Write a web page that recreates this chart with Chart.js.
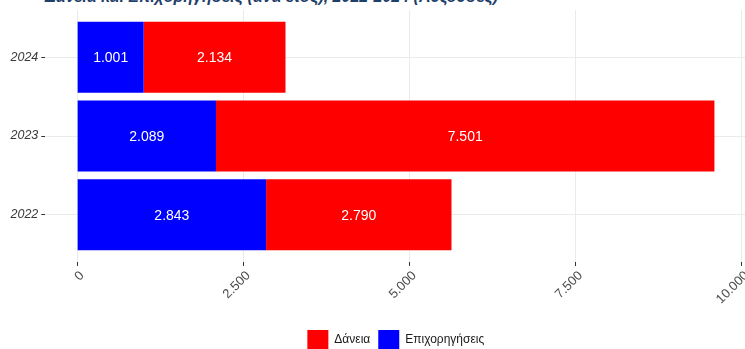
<!DOCTYPE html>
<html>
<head>
<meta charset="utf-8">
<script src="https://cdn.jsdelivr.net/npm/chart.js@4.4.1/dist/chart.umd.min.js"></script>
<style>
  html, body { margin: 0; padding: 0; width: 745px; height: 349px; overflow: hidden; background: #fff; position: relative; }
  #title { position: absolute; left: 45px; top: -11px; font: italic bold 16px 'Liberation Sans', Arial, sans-serif; line-height: 16px; color: #1f3f6b; white-space: nowrap; }
  #wrap { position: absolute; left: 0; top: 0; }
</style>
</head>
<body>
<div id="title">Δάνεια και Επιχορηγήσεις (ανά έτος), 2022-2024 (Αυξούσες)</div>
<div id="wrap"><canvas id="chart" width="760" height="360"></canvas></div>
<script>
// data
var years = ['2022', '2023', '2024'];
var epixorigiseis = [2843, 2089, 1001];
var daneia = [2790, 7501, 2134];
var xTicks = [0, 2500, 5000, 7500, 10000];

function fmt(v) {
  return String(v).replace(/\B(?=(\d{3})+(?!\d))/g, '.');
}

// years sit at 1, 2, 3 on a linear axis so the ggplot-style padding can be kept
var yearPos = years.map(function(y, i) { return i + 1; });
var totals = years.map(function(y, i) { return epixorigiseis[i] + daneia[i]; });
var maxTotal = Math.max.apply(null, totals);

var barLabels = {
  id: 'barLabels',
  afterDatasetsDraw: function(chart) {
    var ctx = chart.ctx;
    ctx.save();
    ctx.font = '14px "Liberation Sans", Arial, sans-serif';
    ctx.fillStyle = '#ffffff';
    ctx.textAlign = 'center';
    ctx.textBaseline = 'middle';
    chart.data.datasets.forEach(function(ds, i) {
      chart.getDatasetMeta(i).data.forEach(function(bar, j) {
        var p = bar.getProps(['x', 'y', 'base'], true);
        ctx.fillText(fmt(ds.data[j].x), (p.x + p.base) / 2, p.y + 1);
      });
    });
    ctx.restore();
  }
};

// centre the legend under the plot panel, like ggplot does
var legendUnderPanel = {
  id: 'legendUnderPanel',
  afterLayout: function(chart) {
    chart.legend.left = chart.chartArea.left;
    chart.legend.right = chart.chartArea.right;
  }
};

var config = {
  type: 'bar',
  data: {
    datasets: [
      {
        label: 'Επιχορηγήσεις',
        data: yearPos.map(function(p, i) { return { x: epixorigiseis[i], y: p }; }),
        backgroundColor: '#0000ff',
        borderWidth: 0
      },
      {
        label: 'Δάνεια',
        data: yearPos.map(function(p, i) { return { x: daneia[i], y: p }; }),
        backgroundColor: '#ff0000',
        borderWidth: 0
      }
    ]
  },
  options: {
    indexAxis: 'y',
    responsive: false,
    animation: false,
    barPercentage: 0.9,
    categoryPercentage: 1,
    layout: { padding: { left: 0, right: 13.7, top: 10, bottom: 0 } },
    scales: {
      x: {
        type: 'linear',
        stacked: true,
        min: -0.05 * maxTotal,
        max: 1.05 * maxTotal,
        afterBuildTicks: function(scale) {
          scale.ticks = xTicks.map(function(v) { return { value: v }; });
        },
        afterFit: function(scale) {
          scale.height = 60;
          scale.paddingLeft = 0;
          scale.paddingRight = 0;
        },
        grid: { color: '#ebebeb', lineWidth: 1, tickColor: '#333333', tickLength: 4 },
        border: { display: false },
        ticks: {
          minRotation: 45,
          maxRotation: 45,
          padding: 2,
          labelOffset: 5,
          color: '#4d4d4d',
          font: { family: '"Liberation Sans", Arial, sans-serif', size: 13 },
          callback: function(v) { return fmt(v); }
        }
      },
      y: {
        type: 'linear',
        stacked: true,
        offset: false,
        min: 0.4,
        max: years.length + 0.6,
        afterBuildTicks: function(scale) {
          scale.ticks = yearPos.map(function(v) { return { value: v }; });
        },
        afterFit: function(scale) {
          scale.width = 45.3;
          scale.paddingTop = 0;
          scale.paddingBottom = 0;
        },
        grid: { offset: false, color: '#ebebeb', lineWidth: 1, tickColor: '#333333', tickLength: 4 },
        border: { display: false },
        ticks: {
          padding: 3,
          color: '#3a3a3a',
          font: { family: '"Liberation Sans", Arial, sans-serif', size: 12.5, style: 'italic' },
          callback: function(v) { return years[yearPos.indexOf(v)]; }
        }
      }
    },
    plugins: {
      title: { display: false },
      tooltip: { enabled: false },
      legend: {
        position: 'bottom',
        reverse: true,
        labels: {
          boxWidth: 21,
          boxHeight: 20,
          padding: 8,
          color: '#1a1a1a',
          font: { family: '"Liberation Sans", Arial, sans-serif', size: 12 }
        }
      }
    }
  },
  plugins: [barLabels, legendUnderPanel]
};

var chart = new Chart(document.getElementById('chart'), config);
</script>
</body>
</html>
